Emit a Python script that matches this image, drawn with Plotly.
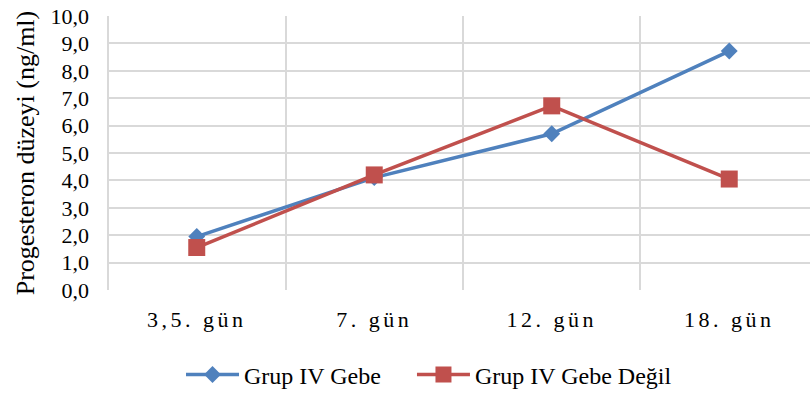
import plotly.graph_objects as go

# Sampling days and progesterone levels (ng/ml)
days = ["3,5. gün", "7. gün", "12. gün", "18. gün"]
gebe = [1.95, 4.1, 5.7, 8.72]
gebe_degil = [1.55, 4.2, 6.72, 4.05]
y_ticks = [0, 1, 2, 3, 4, 5, 6, 7, 8, 9, 10]
y_tick_labels = ["0,0", "1,0", "2,0", "3,0", "4,0", "5,0", "6,0", "7,0", "8,0", "9,0", "10,0"]

BLUE = "#4F81BD"
RED = "#C0504D"
GRID = "#D9D9D9"
FONT = "Liberation Serif"

fig = go.Figure()
fig.add_trace(go.Scatter(
    x=days, y=gebe, name="Grup IV Gebe", mode="lines+markers",
    line=dict(color=BLUE, width=3.5),
    marker=dict(symbol="diamond", size=13, color=BLUE),
    legend="legend",
))
fig.add_trace(go.Scatter(
    x=days, y=gebe_degil, name="Grup IV Gebe Değil", mode="lines+markers",
    line=dict(color=RED, width=3.5),
    marker=dict(symbol="square", size=17, color=RED),
    legend="legend2",
))

legend_style = dict(
    orientation="h", xanchor="left", y=-0.31, yanchor="middle",
    font=dict(family=FONT, size=24, color="black"),
    itemwidth=53, bgcolor="rgba(0,0,0,0)",
)

fig.update_layout(
    width=810, height=398,
    margin=dict(l=108, r=0, t=16, b=106),
    paper_bgcolor="white", plot_bgcolor="white",
    font=dict(family=FONT, color="black", size=22),
    showlegend=True,
    legend=dict(x=0.104, **legend_style),
    legend2=dict(x=0.433, **legend_style),
    xaxis=dict(
        type="category", range=[-0.5, 3.455],
        showgrid=True, gridcolor=GRID, gridwidth=2,
        tickson="boundaries", ticks="", showline=False, zeroline=False,
        tickfont=dict(family=FONT, size=22),
        ticklabelstandoff=14,
    ),
    yaxis=dict(
        range=[0, 10], tickvals=y_ticks, ticktext=y_tick_labels,
        showgrid=True, gridcolor=GRID, gridwidth=2,
        zeroline=False, showline=False, ticks="",
        tickfont=dict(family=FONT, size=22),
        ticklabelstandoff=18,
        title=dict(text="Progesteron düzeyi (ng/ml)", font=dict(family=FONT, size=26), standoff=8),
    ),
)

# Left border of the plot area
fig.add_shape(type="line", xref="paper", yref="paper", x0=0, x1=0, y0=0, y1=1,
              line=dict(color=GRID, width=2), layer="below")

# Spaced-out category labels on the x axis
post = """
var st = document.createElement('style');
st.textContent = '.xtick text { letter-spacing: 3.5px; }';
document.head.appendChild(st);
"""
fig.write_html("out.html", post_script=post)
